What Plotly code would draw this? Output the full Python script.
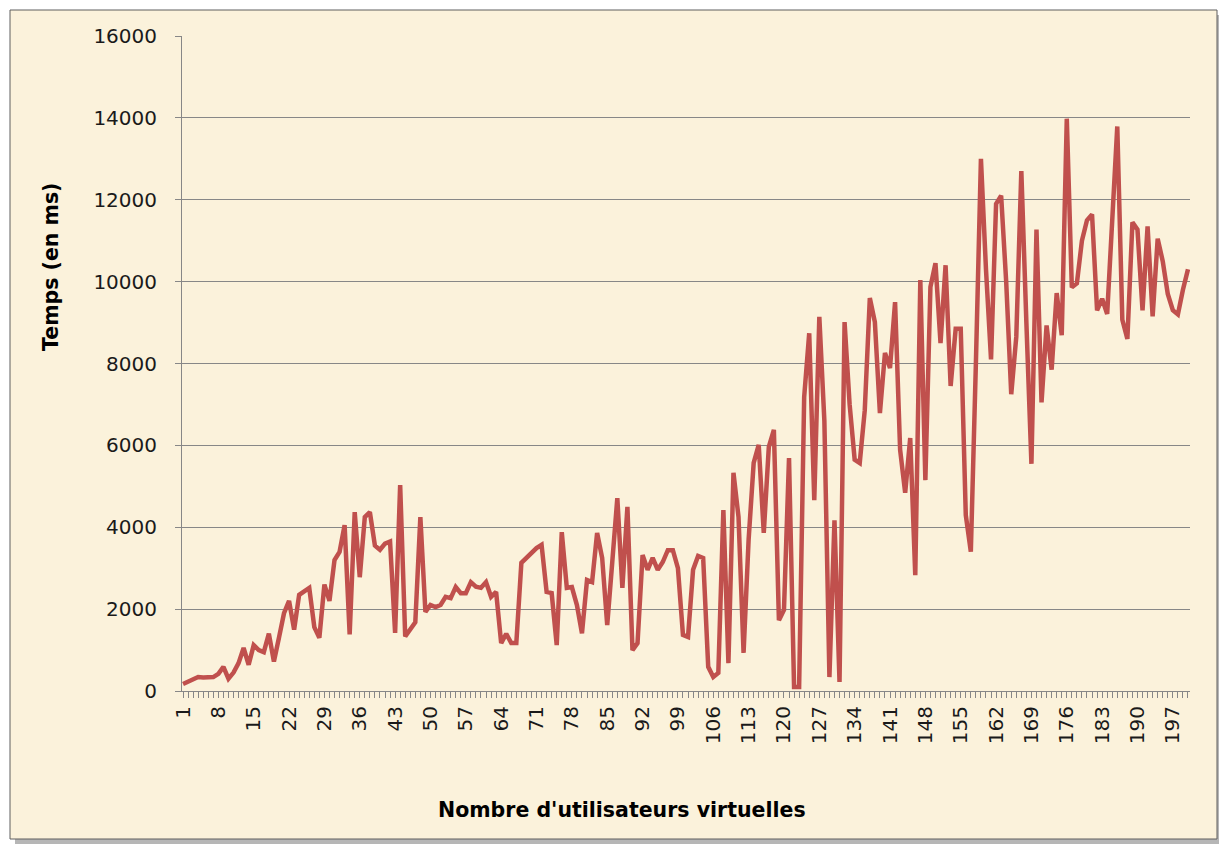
import plotly.graph_objects as go

# temps de réponse (ms) par nombre d'utilisateurs virtuels
users = list(range(1, 201))
temps_ms = [
    170, 220, 280, 340, 330, 330, 340, 420, 590, 300,
    450, 680, 1050, 640, 1120, 1000, 950, 1400, 720, 1300,
    1900, 2200, 1500, 2350, 2450, 2520, 1560, 1300, 2600, 2200,
    3200, 3400, 4050, 1380, 4370, 2780, 4250, 4370, 3550, 3450,
    3600, 3650, 1420, 5030, 1330, 1500, 1680, 4250, 1930, 2100,
    2050, 2100, 2300, 2270, 2540, 2390, 2390, 2660, 2550, 2520,
    2660, 2300, 2420, 1170, 1400, 1170, 1170, 3130, 3250, 3370,
    3490, 3570, 2420, 2390, 1120, 3880, 2520, 2540, 2100, 1410,
    2710, 2660, 3860, 3250, 1610, 3150, 4710, 2520, 4500, 1000,
    1170, 3320, 2960, 3250, 2960, 3150, 3440, 3440, 3000, 1370,
    1320, 2960, 3300, 3250, 590, 340, 440, 4420, 680, 5330,
    4250, 930, 3700, 5570, 6010, 3860, 5960, 6380, 1730, 1980,
    5690, 100, 100, 7180, 8740, 4660, 9140, 6600, 340, 4170,
    220, 9010, 7000, 5650, 5570, 6860, 9600, 9010, 6790, 8260,
    7890, 9500, 5890, 4840, 6180, 2830, 10040, 5150, 9870, 10450,
    8500, 10400, 7450, 8850, 8850, 4300, 3400, 8000, 13000, 10300,
    8100, 11900, 12100, 10000, 7250, 8650, 12700, 9000, 5550, 11270,
    7050, 8930, 7850, 9720, 8690, 13980, 9860, 9960, 11000, 11500,
    11640, 9300, 9580, 9210, 11500, 13790, 9070, 8600, 11450, 11270,
    9300, 11350, 9150, 11050, 10500, 9700, 9300, 9200, 9800, 10300,
]
x_ticks = list(range(1, 201, 7))
y_ticks = list(range(0, 16001, 2000))

# the page body has an 8px margin, so the figure is a bit smaller
OFF = 8
W, H = 1227 - 2 * OFF, 852 - 2 * OFF
L, R, T, B = 182, 1190, 36, 691  # plot area, page pixels


def px(x):
    return (x - L) / (R - L)


def py(y):
    return (B - y) / (B - T)


grid = "#878787"
fig = go.Figure()
fig.add_trace(
    go.Scatter(
        x=users,
        y=temps_ms,
        mode="lines",
        line=dict(color="#c0504d", width=4.5),
        showlegend=False,
    )
)

# cadre + ombre façon Excel
fig.add_shape(type="rect", xref="paper", yref="paper", layer="below",
              x0=px(15), x1=px(1224), y0=py(846), y1=py(15),
              fillcolor="rgba(110,110,110,0.5)", line=dict(width=0))
fig.add_shape(type="rect", xref="paper", yref="paper", layer="below",
              x0=px(10), x1=px(1217), y0=py(839), y1=py(10),
              fillcolor="#fbf2db", line=dict(color="#5e5e5e", width=1))

fig.update_layout(
    width=W,
    height=H,
    margin=dict(l=L - OFF, r=W + OFF - R, t=T - OFF, b=H + OFF - B),
    paper_bgcolor="white",
    plot_bgcolor="rgba(0,0,0,0)",
    font=dict(family="DejaVu Sans, sans-serif", size=20, color="#1a1a1a"),
    xaxis=dict(
        range=[0.8, 200.4],
        tickvals=x_ticks,
        ticktext=[str(v) for v in x_ticks],
        tickangle=-90,
        showgrid=False,
        showline=True,
        linecolor=grid,
        ticks="outside",
        ticklen=6,
        tickcolor=grid,
        minor=dict(dtick=1, tick0=1, ticks="outside", ticklen=6, tickcolor=grid),
        zeroline=False,
    ),
    yaxis=dict(
        range=[0, 16000],
        tickvals=y_ticks,
        tickformat="d",
        showgrid=True,
        gridcolor=grid,
        gridwidth=1,
        showline=True,
        linecolor=grid,
        ticks="outside",
        ticklen=6,
        tickcolor=grid,
        ticklabelstandoff=14,
        zeroline=False,
    ),
)

fig.add_annotation(
    dict(
        font=dict(size=20.5, color="black"),
        x=px(622),
        y=py(810),
        xanchor="center",
        yanchor="middle",
        showarrow=False,
        text="<b>Nombre d'utilisateurs virtuelles</b>",
        xref="paper",
        yref="paper",
    )
)
fig.add_annotation(
    dict(
        font=dict(size=20.5, color="black"),
        x=px(51),
        y=py(267),
        xanchor="center",
        yanchor="middle",
        showarrow=False,
        text="<b>Temps (en ms)</b>",
        textangle=-90,
        xref="paper",
        yref="paper",
    )
)

fig.write_html("out.html")
